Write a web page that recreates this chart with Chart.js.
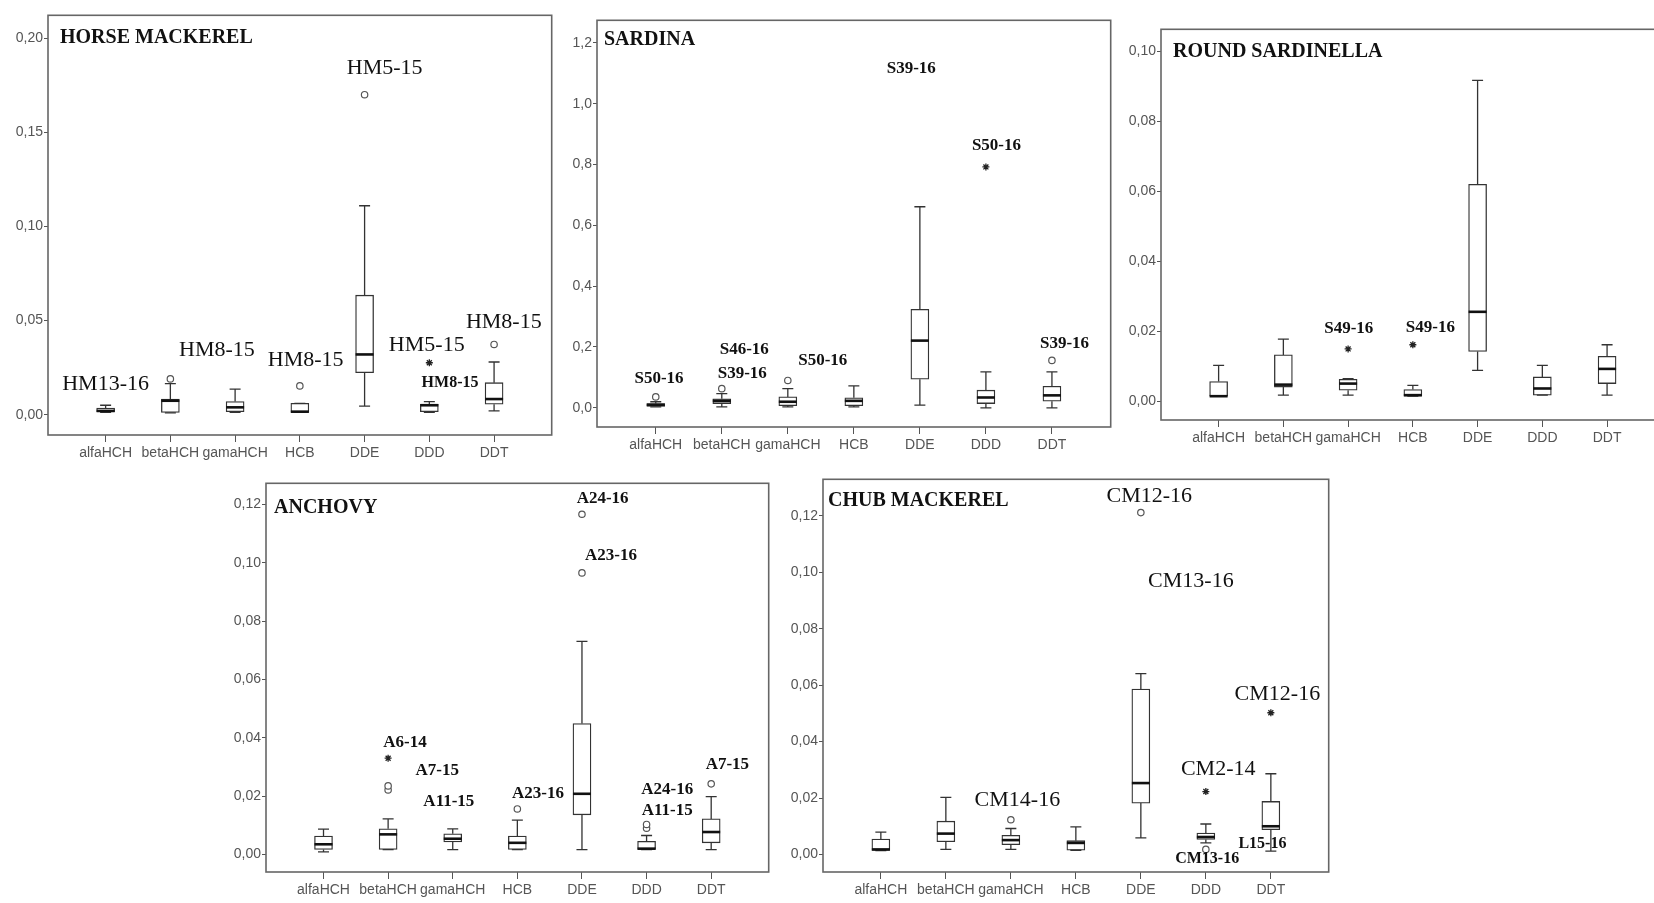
<!DOCTYPE html>
<html>
<head>
<meta charset="utf-8">
<script src="https://cdn.jsdelivr.net/npm/chart.js@4"></script>
<style>
    html, body { margin: 0; padding: 0; background: #fff; overflow: hidden; width: 1654px; height: 903px; }
    canvas { position: absolute; }
</style>
</head>
<body>
<canvas id="hm"></canvas>
<canvas id="sar"></canvas>
<canvas id="rs"></canvas>
<canvas id="an"></canvas>
<canvas id="cm"></canvas>
<script>
// categories shared by all five panels
const categories = ['alfaHCH', 'betaHCH', 'gamaHCH', 'HCB', 'DDE', 'DDD', 'DDT'];

// Horse mackerel
const hmMin = [0.0012, 0.001, 0.0012, 0.0012, 0.0045, 0.0012, 0.002];
const hmQ1 = [0.0015, 0.0012, 0.0016, 0.0012, 0.0223, 0.0016, 0.0056];
const hmMed = [0.002, 0.0074, 0.0039, 0.0016, 0.032, 0.005, 0.0083];
const hmQ3 = [0.0035, 0.0083, 0.007, 0.006, 0.0635, 0.0056, 0.017];
const hmMax = [0.005, 0.0165, 0.0136, 0.006, 0.111, 0.0069, 0.028];
const hmCircles = [[1, 0.019], [3, 0.0153], [4, 0.170], [6, 0.0373]];
const hmStars = [[5, 0.0276]];
const hmLabels = [['HM13-16', 0, 0.016], ['HM8-15', 1.72, 0.034], ['HM8-15', 3.09, 0.029], ['HM5-15', 4.31, 0.184],
    ['HM5-15', 4.96, 0.037], ['HM8-15', 5.32, 0.017], ['HM8-15', 6.15, 0.049]];
const hmTicks = [0, 0.05, 0.10, 0.15, 0.20];

// Sardina
const sarMin = [0.003, 0.003, 0.003, 0.003, 0.009, 0.0, 0.0];
const sarQ1 = [0.005, 0.014, 0.007, 0.007, 0.094, 0.014, 0.022];
const sarMed = [0.01, 0.023, 0.02, 0.023, 0.221, 0.034, 0.041];
const sarQ3 = [0.014, 0.03, 0.036, 0.033, 0.324, 0.058, 0.071];
const sarMax = [0.02, 0.047, 0.063, 0.072, 0.661, 0.118, 0.118];
const sarCircles = [[0, 0.036], [1, 0.063], [2, 0.09], [6, 0.156]];
const sarStars = [[5, 0.792]];
const sarLabels = [['S50-16', 0.05, 0.097], ['S46-16', 1.34, 0.19], ['S39-16', 1.31, 0.114], ['S50-16', 2.53, 0.156],
    ['S39-16', 3.87, 1.114], ['S50-16', 5.16, 0.862], ['S39-16', 6.19, 0.211]];
const sarTicks = [0, 0.2, 0.4, 0.6, 0.8, 1.0, 1.2];

// Round sardinella
const rsMin = [0.0014, 0.0017, 0.0017, 0.0014, 0.0088, 0.0017, 0.0017];
const rsQ1 = [0.0014, 0.004, 0.0031, 0.0014, 0.0142, 0.0017, 0.005];
const rsMed = [0.0014, 0.0047, 0.005, 0.0017, 0.0255, 0.0036, 0.0092];
const rsQ3 = [0.0056, 0.0132, 0.0062, 0.0033, 0.0619, 0.0069, 0.0128];
const rsMax = [0.0102, 0.0177, 0.0064, 0.0045, 0.0916, 0.0102, 0.0161];
const rsCircles = [];
const rsStars = [[2, 0.0149], [3, 0.0161]];
const rsLabels = [['S49-16', 2.01, 0.0206], ['S49-16', 3.27, 0.0209]];
const rsTicks = [0, 0.02, 0.04, 0.06, 0.08, 0.10];

// Anchovy
const anMin = [0.0009, 0.0017, 0.0017, 0.0017, 0.0017, 0.0017, 0.0017];
const anQ1 = [0.0017, 0.0017, 0.0043, 0.0017, 0.0136, 0.0017, 0.004];
const anMed = [0.0035, 0.0069, 0.0054, 0.004, 0.0208, 0.002, 0.0077];
const anQ3 = [0.0063, 0.0088, 0.0071, 0.0063, 0.0449, 0.0045, 0.0122];
const anMax = [0.0087, 0.0122, 0.0088, 0.0118, 0.073, 0.0065, 0.0198];
const anCircles = [[1, 0.0221], [1, 0.0235], [3, 0.0156], [4, 0.1166], [4, 0.0965], [5, 0.0090], [5, 0.0103], [6, 0.0242]];
const anStars = [[1, 0.033]];
const anLabels = [['A6-14', 1.26, 0.0382], ['A7-15', 1.76, 0.0289], ['A11-15', 1.94, 0.0182], ['A23-16', 3.32, 0.0207],
    ['A24-16', 4.32, 0.1218], ['A23-16', 4.45, 0.1025], ['A24-16', 5.32, 0.0221], ['A11-15', 5.32, 0.015], ['A7-15', 6.25, 0.0307]];
const anTicks = [0, 0.02, 0.04, 0.06, 0.08, 0.10, 0.12];

// Chub mackerel
const cmMin = [0.0014, 0.0018, 0.0018, 0.0015, 0.0059, 0.0041, 0.0012];
const cmQ1 = [0.0014, 0.0045, 0.0035, 0.0015, 0.0182, 0.0053, 0.0088];
const cmMed = [0.0018, 0.0074, 0.0051, 0.0041, 0.0253, 0.0062, 0.01];
const cmQ3 = [0.0055, 0.0118, 0.0068, 0.0049, 0.0586, 0.0076, 0.0188];
const cmMax = [0.0079, 0.0202, 0.0092, 0.0098, 0.0641, 0.0108, 0.0286];
const cmCircles = [[2, 0.0123], [4, 0.1211], [5, 0.0018]];
const cmStars = [[5, 0.0223], [6, 0.0502]];
const cmLabels = [['CM14-16', 2.10, 0.0193], ['CM12-16', 4.13, 0.127], ['CM13-16', 4.77, 0.0967], ['CM12-16', 6.10, 0.0569],
    ['CM2-14', 5.19, 0.0301], ['CM13-16', 5.02, -0.0015], ['L15-16', 5.87, 0.0037]];
const cmTicks = [0, 0.02, 0.04, 0.06, 0.08, 0.10, 0.12];

// panel setup: frame = plot box in page pixels [left, top, right, bottom]
const panels = [
    { id: 'hm', title: 'HORSE MACKEREL', min: hmMin, q1: hmQ1, med: hmMed, q3: hmQ3, max: hmMax, circles: hmCircles, stars: hmStars,
      labels: hmLabels, ticks: hmTicks, dec: 2, yMin: -0.0108, yMax: 0.2122, frame: [47.5, 11.5, 554, 434], titleAt: [12, 23],
      labelFont: 'normal 22px', smallLabels: [5] },
    { id: 'sar', title: 'SARDINA', min: sarMin, q1: sarQ1, med: sarMed, q3: sarQ3, max: sarMax, circles: sarCircles, stars: sarStars,
      labels: sarLabels, ticks: sarTicks, dec: 1, yMin: -0.063, yMax: 1.274, frame: [597, 16.5, 1114, 426], titleAt: [7, 20],
      labelFont: 'bold 17px', smallLabels: [] },
    { id: 'rs', title: 'ROUND SARDINELLA', min: rsMin, q1: rsQ1, med: rsMed, q3: rsQ3, max: rsMax, circles: rsCircles, stars: rsStars,
      labels: rsLabels, ticks: rsTicks, dec: 2, yMin: -0.0054, yMax: 0.1062, frame: [1161, 26, 1668, 420], titleAt: [12, 23],
      labelFont: 'bold 17px', smallLabels: [] },
    { id: 'an', title: 'ANCHOVY', min: anMin, q1: anQ1, med: anMed, q3: anQ3, max: anMax, circles: anCircles, stars: anStars,
      labels: anLabels, ticks: anTicks, dec: 2, yMin: -0.006, yMax: 0.1272, frame: [266, 479.5, 772, 871], titleAt: [8, 25],
      labelFont: 'bold 17px', smallLabels: [] },
    { id: 'cm', title: 'CHUB MACKEREL', min: cmMin, q1: cmQ1, med: cmMed, q3: cmQ3, max: cmMax, circles: cmCircles, stars: cmStars,
      labels: cmLabels, ticks: cmTicks, dec: 2, yMin: -0.0062, yMax: 0.1329, frame: [823, 475.5, 1332, 871], titleAt: [5, 22],
      labelFont: 'normal 22px', smallLabels: [5, 6] }
];

const Y_AXIS_W = 45;
const X_AXIS_H = 40;
const PAD = 2;
const BOX_W = 18;

const byId = {};
panels.forEach(p => byId[p.id] = p);

// whiskers, medians, frame, title and case labels
const boxPlot = {
    id: 'boxPlot',
    afterDatasetsDraw(chart) {
        const p = byId[chart.canvas.id];
        const ctx = chart.ctx;
        const xs = chart.scales.x, ys = chart.scales.y;
        ctx.save();
        ctx.strokeStyle = '#333';
        categories.forEach((c, i) => {
            const cx = xs.getPixelForValue(i);
            const half = BOX_W / 2;
            const cap = BOX_W / 4 + 1;
            ctx.lineWidth = 1.3;
            ctx.beginPath();
            ctx.moveTo(cx, ys.getPixelForValue(p.q3[i]));
            ctx.lineTo(cx, ys.getPixelForValue(p.max[i]));
            ctx.moveTo(cx - cap, ys.getPixelForValue(p.max[i]));
            ctx.lineTo(cx + cap, ys.getPixelForValue(p.max[i]));
            ctx.moveTo(cx, ys.getPixelForValue(p.q1[i]));
            ctx.lineTo(cx, ys.getPixelForValue(p.min[i]));
            ctx.moveTo(cx - cap, ys.getPixelForValue(p.min[i]));
            ctx.lineTo(cx + cap, ys.getPixelForValue(p.min[i]));
            ctx.stroke();
            ctx.lineWidth = 2.6;
            ctx.strokeStyle = '#111';
            ctx.beginPath();
            ctx.moveTo(cx - half, ys.getPixelForValue(p.med[i]));
            ctx.lineTo(cx + half, ys.getPixelForValue(p.med[i]));
            ctx.stroke();
            ctx.strokeStyle = '#333';
        });
        ctx.restore();
    },
    afterDraw(chart) {
        const p = byId[chart.canvas.id];
        const ctx = chart.ctx;
        const a = chart.chartArea;
        const xs = chart.scales.x, ys = chart.scales.y;
        ctx.save();
        // frame
        ctx.strokeStyle = '#666';
        ctx.lineWidth = 1.6;
        ctx.strokeRect(a.left, a.top, a.right - a.left, a.bottom - a.top);
        // title
        ctx.fillStyle = '#111';
        ctx.font = 'bold 20px "Liberation Serif"';
        ctx.textAlign = 'left';
        ctx.textBaseline = 'middle';
        ctx.fillText(p.title, a.left + p.titleAt[0], a.top + p.titleAt[1]);
        // case labels
        ctx.textAlign = 'center';
        p.labels.forEach((l, k) => {
            ctx.font = (p.smallLabels.includes(k) ? 'bold 16px' : p.labelFont) + ' "Liberation Serif"';
            ctx.fillText(l[0], xs.getPixelForValue(l[1]), ys.getPixelForValue(l[2]));
        });
        ctx.restore();
    }
};

panels.forEach(p => {
    const cv = document.getElementById(p.id);
    const [fl, ft, fr, fb] = p.frame;
    const w = Math.round(fr - fl + Y_AXIS_W + PAD);
    const h = Math.round(fb - ft + PAD + X_AXIS_H);
    cv.width = w;
    cv.height = h;
    cv.style.left = (fl - Y_AXIS_W) + 'px';
    cv.style.top = (ft - PAD) + 'px';
    cv.style.width = w + 'px';
    cv.style.height = h + 'px';

    new Chart(cv, {
        type: 'bar',
        data: {
            datasets: [{
                type: 'bar',
                data: categories.map((c, i) => ({ x: i, y: [p.q1[i], p.q3[i]] })),
                backgroundColor: '#fff',
                borderColor: '#333',
                borderWidth: 1.3,
                borderSkipped: false,
                barThickness: BOX_W
            }, {
                type: 'scatter',
                data: p.circles.map(o => ({ x: o[0], y: o[1] })),
                pointStyle: 'circle',
                radius: 3.2,
                backgroundColor: '#fff',
                borderColor: '#555',
                borderWidth: 1.2
            }, {
                type: 'scatter',
                data: p.stars.map(o => ({ x: o[0], y: o[1] })),
                pointStyle: 'star',
                radius: 3.5,
                borderColor: '#222',
                borderWidth: 1.3
            }]
        },
        options: {
            responsive: false,
            animation: false,
            events: [],
            layout: { padding: { top: PAD, right: PAD, left: 0, bottom: 0 } },
            plugins: { legend: { display: false }, tooltip: { enabled: false } },
            scales: {
                x: {
                    type: 'linear',
                    min: -0.89,
                    max: 6.89,
                    offset: false,
                    afterBuildTicks: s => { s.ticks = categories.map((c, i) => ({ value: i })); },
                    afterFit: s => { s.height = X_AXIS_H; s.paddingLeft = 0; s.paddingRight = 0; },
                    grid: { drawOnChartArea: false, drawTicks: true, tickLength: 7, color: '#555', offset: false },
                    border: { display: false },
                    ticks: {
                        padding: 3,
                        color: '#555',
                        font: { family: '"Liberation Sans"', size: 14 },
                        maxRotation: 0,
                        autoSkip: false,
                        callback: v => categories[v]
                    }
                },
                y: {
                    min: p.yMin,
                    max: p.yMax,
                    afterBuildTicks: s => { s.ticks = p.ticks.map(v => ({ value: v })); },
                    afterFit: s => { s.width = Y_AXIS_W; s.paddingTop = 0; s.paddingBottom = 0; },
                    grid: { drawOnChartArea: false, drawTicks: true, tickLength: 4, color: '#555' },
                    border: { display: false },
                    ticks: {
                        padding: 1,
                        color: '#555',
                        font: { family: '"Liberation Sans"', size: 14 },
                        callback: v => v.toFixed(p.dec).replace('.', ',')
                    }
                }
            }
        },
        plugins: [boxPlot]
    });
});
</script>
</body>
</html>
